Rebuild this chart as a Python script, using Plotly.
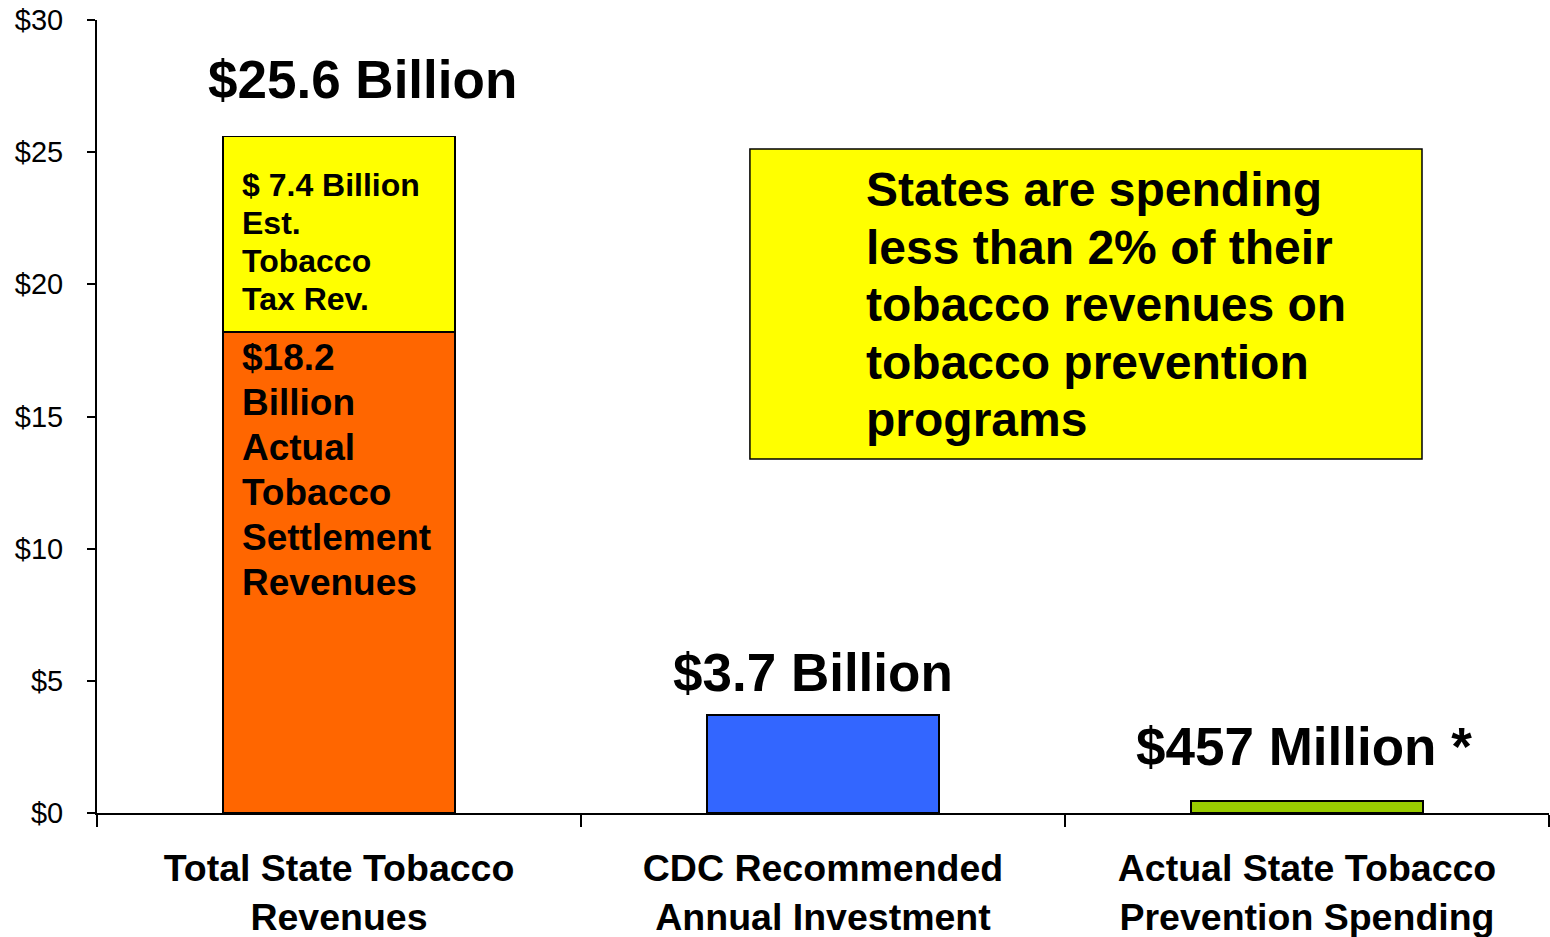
import plotly.graph_objects as go

categories = ["Total State Tobacco<br>Revenues",
              "CDC Recommended<br>Annual Investment",
              "Actual State Tobacco<br>Prevention Spending"]
settlement = [18.2, 0, 0]
tax = [7.4, 0, 0]
cdc = [0, 3.7, 0]
actual = [0, 0, 0.457]
totals = [25.6, 3.7, 0.457]
top_labels = ["$25.6 Billion", "$3.7 Billion", "$457 Million *"]
top_label_shift = [57, 43, 54]
top_label_xshift = [23, -10, -3]
orange_lines = ["$18.2", "Billion", "Actual", "Tobacco", "Settlement", "Revenues"]
yellow_lines = ["$ 7.4 Billion", "Est.", "Tobacco", "Tax Rev."]
box_lines = ["States are spending", "less than 2% of their",
             "tobacco revenues on", "tobacco prevention", "programs"]
yticks = [0, 5, 10, 15, 20, 25, 30]
ytick_labels = ["$0", "$5", "$10", "$15", "$20", "$25", "$30"]

FONT = "Liberation Sans, Arial, sans-serif"
BW = 0.48

fig = go.Figure()
fig.add_bar(x=categories, y=settlement, marker_color="#FF6600", width=BW,
            marker_line=dict(color="black", width=1.5))
fig.add_bar(x=categories, y=tax, marker_color="#FFFF00", width=BW,
            marker_line=dict(color="black", width=1.5))
fig.add_bar(x=categories, y=cdc, marker_color="#3366FF", width=BW,
            marker_line=dict(color="black", width=1.5))
fig.add_bar(x=categories, y=actual, marker_color="#99CC00", width=BW,
            marker_line=dict(color="black", width=1.5))

ann = []
for i, (t, v) in enumerate(zip(top_labels, totals)):
    ann.append(dict(x=i, y=v, xref="x", yref="y", text="<b>%s</b>" % t, showarrow=False,
                    yanchor="middle", xanchor="center", yshift=top_label_shift[i],
                    xshift=top_label_xshift[i],
                    font=dict(family=FONT, size=53, color="black")))
for k, line in enumerate(orange_lines):
    ann.append(dict(x=-BW / 2, y=settlement[0], xref="x", yref="y", text="<b>%s</b>" % line,
                    showarrow=False, xanchor="left", yanchor="middle", xshift=17,
                    yshift=-26 - 45 * k, font=dict(family=FONT, size=37, color="black")))
for k, line in enumerate(yellow_lines):
    ann.append(dict(x=-BW / 2, y=totals[0], xref="x", yref="y", text="<b>%s</b>" % line,
                    showarrow=False, xanchor="left", yanchor="middle", xshift=17,
                    yshift=-49 - 38 * k, font=dict(family=FONT, size=32, color="black")))
box_x0, box_x1, box_y0, box_y1 = 0.849, 2.2376, 13.39, 25.12
for k, line in enumerate(box_lines):
    ann.append(dict(x=1.089, y=box_y1, xref="x", yref="y", text="<b>%s</b>" % line,
                    showarrow=False, xanchor="left", yanchor="middle", xshift=-2,
                    yshift=-41 - 57.5 * k, font=dict(family=FONT, size=48, color="black")))

fig.add_shape(type="rect", xref="x", yref="y", x0=box_x0, x1=box_x1, y0=box_y0, y1=box_y1,
              fillcolor="#FFFF00", line=dict(color="black", width=1.5), layer="above")

fig.update_layout(
    barmode="stack", showlegend=False, width=1550, height=937,
    margin=dict(l=97, r=1, t=20, b=124, autoexpand=False),
    plot_bgcolor="white", paper_bgcolor="white",
    annotations=ann,
    font=dict(family=FONT, color="black"),
)
fig.update_xaxes(showline=True, linecolor="black", linewidth=2, ticks="outside",
                 tickson="boundaries", ticklen=12, tickwidth=2, tickcolor="black",
                 tickfont=dict(family=FONT, size=37.5, color="black", weight="bold"),
                 showgrid=False, range=[-0.5, 2.5], ticklabelstandoff=21,
                 ticklabeloverflow="allow")
fig.update_yaxes(range=[0, 30], tickvals=yticks, ticktext=ytick_labels, showline=True,
                 linecolor="black", linewidth=2, ticks="outside", ticklen=8, tickwidth=2,
                 tickcolor="black", showgrid=False, zeroline=False,
                 tickfont=dict(family=FONT, size=29, color="black"), ticklabelstandoff=18,
                 ticklabeloverflow="allow")

# remove the browser's default 8px body margin so the figure fills the window
fig.write_html("out.html", config={"displayModeBar": False},
               post_script="document.body.style.margin='0';document.body.style.overflow='hidden';")
